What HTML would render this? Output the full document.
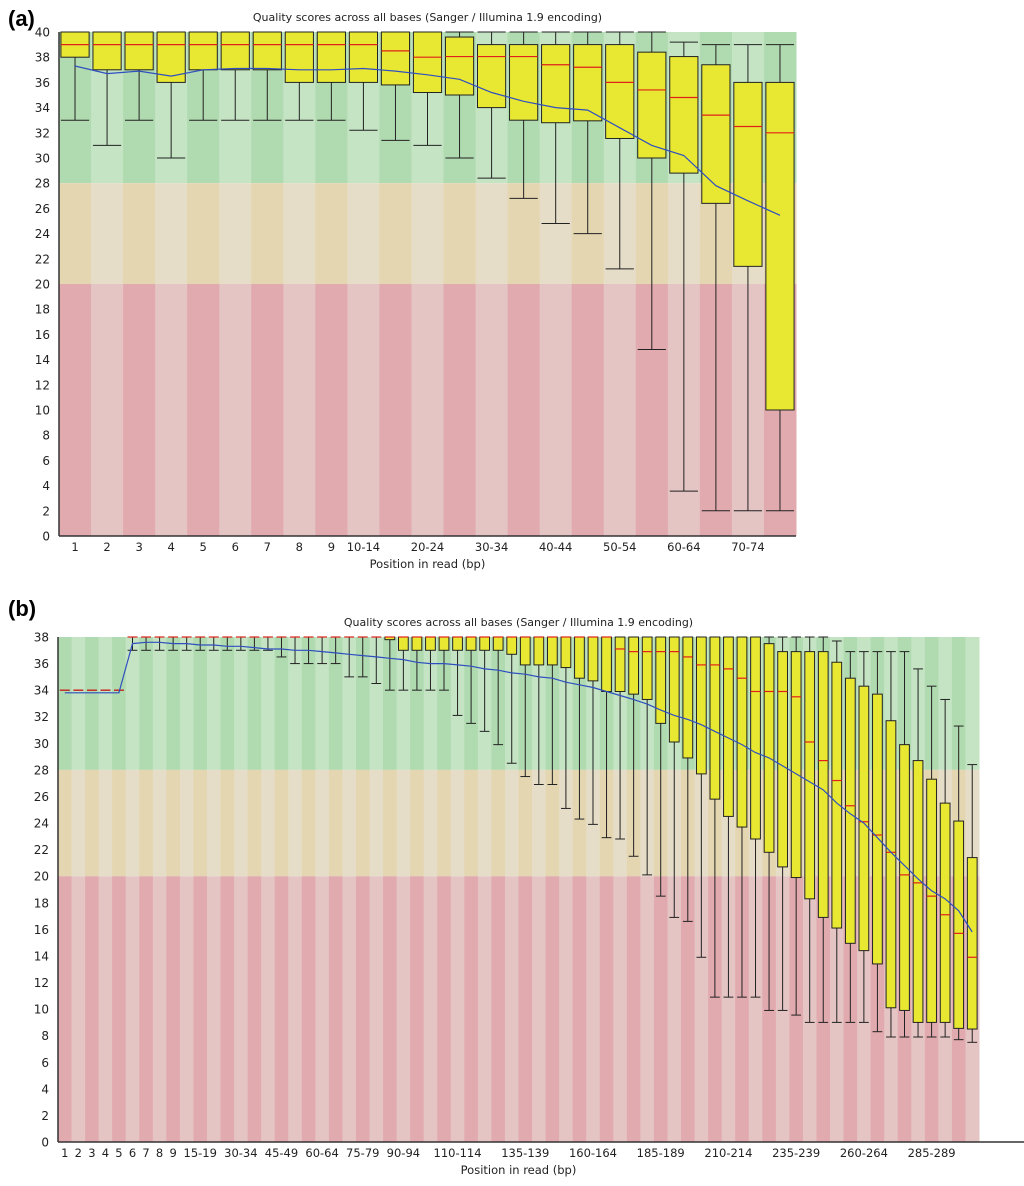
<!DOCTYPE html>
<html><head><meta charset="utf-8">
<style>
html,body{margin:0;padding:0;background:#fff;}
svg{display:block;font-family:"DejaVu Sans","Liberation Sans",sans-serif;}
</style></head>
<body>
<svg id="chart" width="1024" height="1186" viewBox="0 0 1024 1186" xmlns="http://www.w3.org/2000/svg">
<text x="8" y="26" font-size="22" font-weight="bold" font-family="Liberation Sans, sans-serif">(a)</text>
<text x="8" y="616" font-size="22" font-weight="bold" font-family="Liberation Sans, sans-serif">(b)</text>
</svg>
<script>
// ---- Panel (a) data ----
const aCategories = ["1","2","3","4","5","6","7","8","9","10-14","15-19","20-24","25-29","30-34","35-39","40-44","45-49","50-54","55-59","60-64","65-69","70-74","75-76"];
const aTickLabels = ["1","2","3","4","5","6","7","8","9","10-14","","20-24","","30-34","","40-44","","50-54","","60-64","","70-74",""];
const aMedian = [39,39,39,39,39,39,39,39,39,39,38.5,38,38.05,38.05,38.05,37.4,37.2,36,35.4,34.8,33.4,32.5,32];
const aQ1 = [38,37,37,36,37,37,37,36,36,36,35.8,35.2,35,34,33,32.8,32.95,31.55,30,28.8,26.4,21.4,10];
const aQ3 = [40,40,40,40,40,40,40,40,40,40,40,40,39.6,39,39,39,39,39,38.4,38.05,37.4,36,36];
const aLow = [33,31,33,30,33,33,33,33,33,32.2,31.4,31,30,28.4,26.8,24.8,24,21.2,14.8,3.56,2,2,2];
const aHigh = [40,40,40,40,40,40,40,40,40,40,40,40,40,40,40,40,40,40,40,39.2,39,39,39];
const aMean = [37.3,36.7,36.9,36.5,37,37.1,37.1,37,37,37.1,36.9,36.6,36.25,35.2,34.5,34,33.8,32.4,31,30.2,27.8,26.6,25.45];
const aYTicks = [0,2,4,6,8,10,12,14,16,18,20,22,24,26,28,30,32,34,36,38,40];

// ---- Panel (b) data ----
const bCategories = [];
for (let i = 1; i <= 9; i++) bCategories.push(String(i));
for (let s = 10; s <= 300; s += 5) bCategories.push(s + "-" + (s + 4));
const bTickLabels = ["1","2","3","4","5","6","7","8","9","15-19","30-34","45-49","60-64","75-79","90-94","110-114","135-139","160-164","185-189","210-214","235-239","260-264","285-289"];
const bMedian = [34,34,34,34,34,38,38,38,38,38,38,38,38,38,38,38,38,38,38,38,38,38,38,38,38,38,38,38,38,38,38,38,38,38,38,38,38,38,38,38,38,37.1,36.9,36.9,36.9,36.9,36.5,35.9,35.9,35.6,34.9,33.9,33.9,33.9,33.5,30.1,28.7,27.2,25.3,24.1,23.1,21.8,20.1,19.5,18.5,17.1,15.7,13.9];
const bQ3 = [34,34,34,34,34,38,38,38,38,38,38,38,38,38,38,38,38,38,38,38,38,38,38,38,38,38,38,38,38,38,38,38,38,38,38,38,38,38,38,38,38,38,38,38,38,38,38,38,38,38,38,38,37.5,36.9,36.9,36.9,36.9,36.1,34.9,34.3,33.7,31.7,29.9,28.7,27.3,25.5,24.15,21.4];
const bQ1 = [34,34,34,34,34,38,38,38,38,38,38,38,38,38,38,38,38,38,38,38,38,38,38,38,37.8,37,37,37,37,37,37,37,37,36.7,35.9,35.9,35.9,35.7,34.9,34.7,33.9,33.9,33.7,33.3,31.5,30.1,28.9,27.7,25.8,24.5,23.7,22.8,21.8,20.7,19.9,18.3,16.9,16.1,14.95,14.4,13.4,10.1,9.9,9,9,9,8.55,8.5];
const bLow = [34,34,34,34,34,37,37,37,37,37,37,37,37,37,37,37,36.5,36,36,36,36,35,35,34.5,34,34,34,34,34,32.1,31.5,30.9,29.9,28.5,27.5,26.9,26.9,25.1,24.3,23.9,22.9,22.8,21.5,20.1,18.5,16.9,16.6,13.9,10.9,10.9,10.9,10.9,9.9,9.9,9.55,9,9,9,9,9,8.3,7.9,7.9,7.9,7.9,7.9,7.7,7.5];
const bHigh = [34,34,34,34,34,38,38,38,38,38,38,38,38,38,38,38,38,38,38,38,38,38,38,38,38,38,38,38,38,38,38,38,38,38,38,38,38,38,38,38,38,38,38,38,38,38,38,38,38,38,38,38,38,38,38,38,38,37.7,36.9,36.9,36.9,36.9,36.9,35.6,34.3,33.3,31.3,28.4];
const bMean = [33.8,33.8,33.8,33.8,33.8,37.5,37.6,37.6,37.5,37.5,37.4,37.4,37.3,37.3,37.2,37.1,37.1,37,37,36.9,36.8,36.7,36.6,36.5,36.4,36.3,36.1,36,36,35.9,35.8,35.6,35.5,35.3,35.2,35,34.9,34.6,34.4,34.2,33.9,33.6,33.3,32.95,32.5,32.1,31.8,31.4,30.9,30.4,29.9,29.3,28.9,28.3,27.7,27.1,26.5,25.5,24.7,24,22.9,21.8,20.8,19.8,18.9,18.3,17.4,15.8];
const bYTicks = [0,2,4,6,8,10,12,14,16,18,20,22,24,26,28,30,32,34,36,38];

const NS = "http://www.w3.org/2000/svg";
const svg = document.getElementById("chart");
function mk(tag, attrs, parent) {
  const e = document.createElementNS(NS, tag);
  for (const k in attrs) e.setAttribute(k, attrs[k]);
  (parent || svg).appendChild(e);
  return e;
}

function drawPanel(p) {
  const g = mk("g", {});
  
  
  const n = p.cats.length;
  const colW = (p.x1 - p.x0) / n;
  const xs = i => p.x0 + colW * i;
  const xc = i => p.x0 + colW * (i + 0.5);
  const ys = v => p.yBot - (v - 0) * (p.yBot - p.yTop) / p.vMax;
  // background bands
  const bands = [[28, p.vMax, "rgb(176,218,176)", "rgb(196,228,196)"],
                 [20, 28, "rgb(228,214,176)", "rgb(230,221,200)"],
                 [0, 20, "rgb(225,170,175)", "rgb(229,196,196)"]];
  for (let i = 0; i < n; i++) {
    bands.forEach((b, bi) => {
      const r = mk("rect", {x: xs(i), y: ys(b[1]), width: colW + 0.5, height: ys(b[0]) - ys(b[1]), fill: i % 2 === 0 ? b[2] : b[3]}, g);
      
      
    });
  }
  // boxes
  const bw = colW * p.boxFrac;
  for (let i = 0; i < n; i++) {
    const cx = xc(i);
    const bg = mk("g", {}, g);
    
    
    mk("line", {x1: cx, x2: cx, y1: ys(p.high[i]), y2: ys(p.low[i]), stroke: "#222", "stroke-width": 1}, bg);
    mk("line", {x1: cx - bw / 2, x2: cx + bw / 2, y1: ys(p.low[i]), y2: ys(p.low[i]), stroke: "#222", "stroke-width": 1}, bg);
    mk("line", {x1: cx - bw / 2, x2: cx + bw / 2, y1: ys(p.high[i]), y2: ys(p.high[i]), stroke: "#222", "stroke-width": 1}, bg);
    mk("rect", {x: cx - bw / 2, y: ys(p.q3[i]), width: bw, height: Math.max(0, ys(p.q1[i]) - ys(p.q3[i])), fill: "#e8e832", stroke: "#222", "stroke-width": 1}, bg);
    mk("line", {x1: cx - bw / 2, x2: cx + bw / 2, y1: ys(p.median[i]), y2: ys(p.median[i]), stroke: "#e0201a", "stroke-width": 1.2}, bg);
  }
  // mean line
  let d = "";
  for (let i = 0; i < n; i++) d += (i ? "L" : "M") + xc(i).toFixed(1) + "," + ys(p.mean[i]).toFixed(1);
  const ml = mk("path", {d: d, fill: "none", stroke: "#2f4fc0", "stroke-width": 1.2}, g);
  
  
  // axes
  const ya = mk("line", {x1: p.x0, x2: p.x0, y1: p.yTop, y2: p.yBot, stroke: "#333", "stroke-width": 1.5}, g);
  
  
  const xa = mk("line", {x1: p.x0, x2: p.axisEnd, y1: p.yBot, y2: p.yBot, stroke: "#333", "stroke-width": 1.5}, g);
  
  
  p.yTicks.forEach(v => {
    const t = mk("text", {x: p.x0 - 9, y: ys(v) + 4.5, "text-anchor": "end", "font-size": 12, fill: "#222"}, g);
    t.textContent = v;
    
    
  });
  p.tickLabels.forEach((lab, li) => {
    if (!lab) return;
    const idx = p.cats.indexOf(lab);
    const t = mk("text", {x: xc(idx), y: p.yBot + 15, "text-anchor": "middle", "font-size": 11.5, fill: "#222"}, g);
    t.textContent = lab;
    
    
  });
  const title = mk("text", {x: (p.x0 + p.x1) / 2, y: p.yTop - 11, "text-anchor": "middle", "font-size": 11, fill: "#222"}, g);
  title.textContent = "Quality scores across all bases (Sanger / Illumina 1.9 encoding)";
  
  
  const xt = mk("text", {x: (p.x0 + p.x1) / 2, y: p.yBot + 32, "text-anchor": "middle", "font-size": 11.5, fill: "#222"}, g);
  xt.textContent = "Position in read (bp)";
  
  
}

drawPanel({name: "panel-a-chart", cats: aCategories, tickLabels: aTickLabels, median: aMedian, q1: aQ1, q3: aQ3, low: aLow, high: aHigh, mean: aMean, yTicks: aYTicks,
  x0: 59, x1: 796, axisEnd: 796, yTop: 32, yBot: 536, vMax: 40, boxFrac: 0.88});
drawPanel({name: "panel-b-chart", cats: bCategories, tickLabels: bTickLabels, median: bMedian, q1: bQ1, q3: bQ3, low: bLow, high: bHigh, mean: bMean, yTicks: bYTicks,
  x0: 58, x1: 979, axisEnd: 1024, yTop: 637, yBot: 1142, vMax: 38, boxFrac: 0.72});
</script>
</body></html>
